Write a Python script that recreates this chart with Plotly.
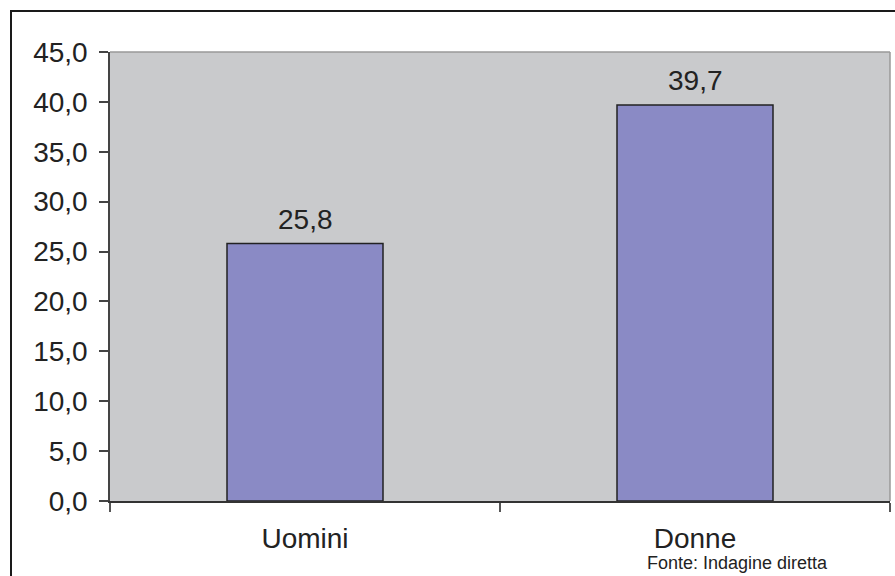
import plotly.graph_objects as go

# Valori percentuali per genere
categorie = ["Uomini", "Donne"]
valori = [25.8, 39.7]
tick_y = [0, 5, 10, 15, 20, 25, 30, 35, 40, 45]

FONT = "Liberation Sans, Arial, sans-serif"
W, H = 895, 576
ML, MR, MT, MB = 110, 5, 52, 75

fig = go.Figure()
fig.add_trace(go.Bar(
    x=categorie,
    y=valori,
    width=0.4,
    marker=dict(color="#8A8AC5", line=dict(color="#222222", width=1.5)),
    hoverinfo="skip",
))

# Etichette dei valori sopra le barre
for c, v in zip(categorie, valori):
    fig.add_annotation(
        x=c, y=v, text=f"{v:.1f}".replace(".", ","),
        showarrow=False, yanchor="bottom", yshift=7,
        font=dict(family=FONT, size=28, color="#222222"),
    )

pw = W - ML - MR
ph = H - MT - MB

# Cornice esterna del grafico
fig.add_shape(
    type="rect", xref="paper", yref="paper",
    x0=(11 - ML) / pw, x1=(W + 20 - ML) / pw,
    y0=-(H + 20 - MT - ph) / ph, y1=1 + (MT - 11) / ph,
    line=dict(color="#1a1a1a", width=2), layer="above",
)
# Bordo superiore e destro dell'area del grafico
fig.add_shape(type="line", xref="paper", yref="paper", x0=0, x1=1, y0=1, y1=1,
              line=dict(color="#999999", width=1.5))
fig.add_shape(type="line", xref="paper", yref="paper", x0=1, x1=1, y0=0, y1=1,
              line=dict(color="#999999", width=1.5))

# Fonte
fig.add_annotation(
    xref="paper", yref="paper", x=(737 - ML) / pw, y=-(H - 1 - MT - ph) / ph,
    text="Fonte: Indagine diretta", showarrow=False,
    xanchor="center", yanchor="bottom",
    font=dict(family=FONT, size=18, color="#222222"),
)

fig.update_layout(
    width=W, height=H,
    margin=dict(l=ML, r=MR, t=MT, b=MB, pad=0),
    paper_bgcolor="white",
    plot_bgcolor="#C9CACC",
    separators=",.",
    showlegend=False,
    font=dict(family=FONT, size=28, color="#222222"),
    bargap=0.6,
)
fig.update_xaxes(
    showline=True, linecolor="#333333", linewidth=1.5,
    ticks="outside", tickson="boundaries", ticklen=9, tickcolor="#555555", tickwidth=1.5,
    ticklabelstandoff=12,
    tickfont=dict(family=FONT, size=28, color="#222222"),
    showgrid=False, zeroline=False,
)
fig.update_yaxes(
    range=[0, 45], tickvals=tick_y, tickformat=".1f",
    showline=True, linecolor="#444444", linewidth=1.5,
    ticks="outside", ticklen=9, tickcolor="#444444", tickwidth=1.5,
    ticklabelstandoff=6,
    tickfont=dict(family=FONT, size=28, color="#222222"),
    showgrid=False, zeroline=False,
)

fig.write_html("out.html")
